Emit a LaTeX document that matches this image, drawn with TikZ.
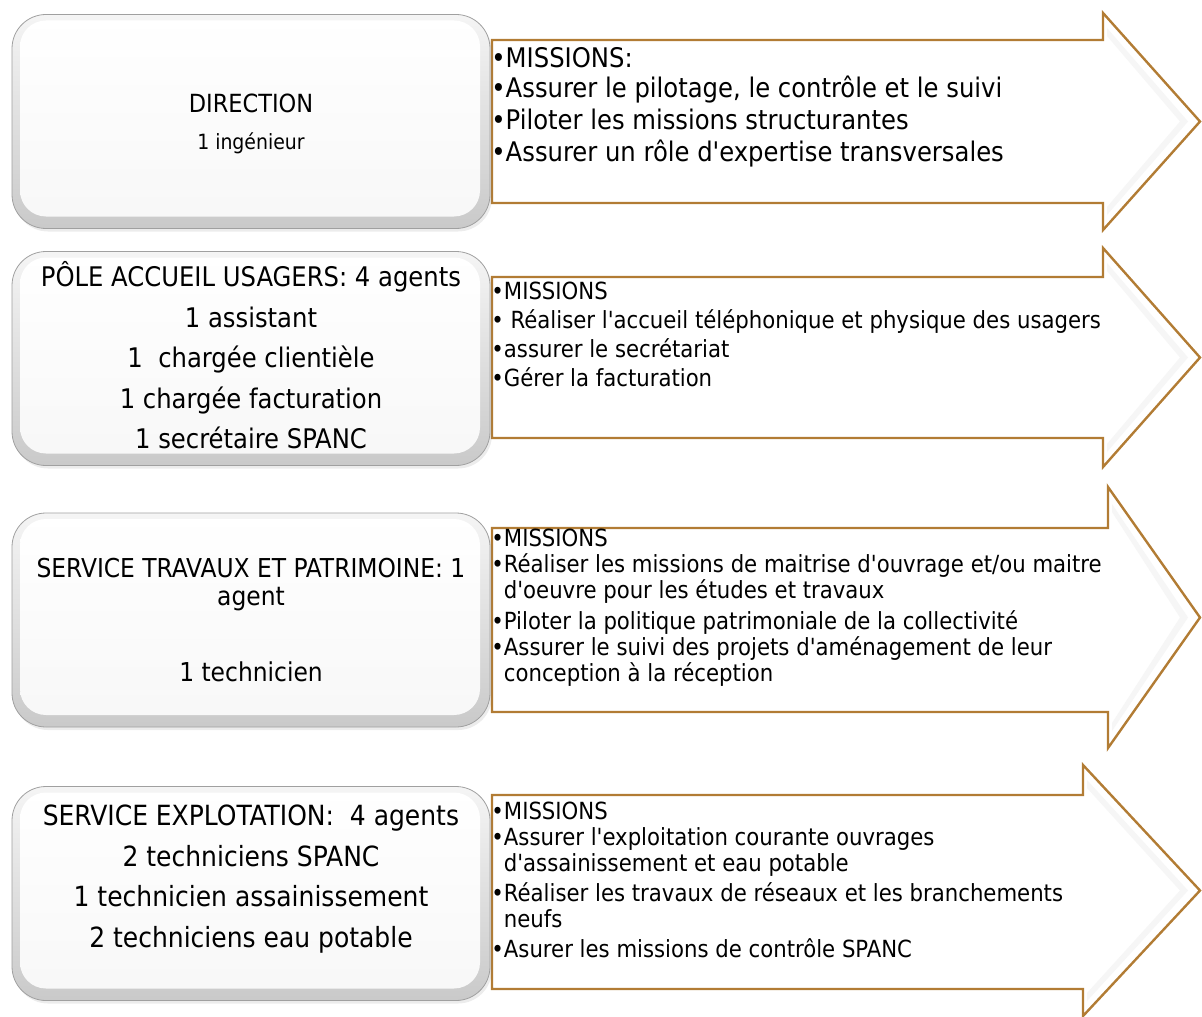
\documentclass[tikz,border=0pt]{standalone}
\usepackage{fontspec}
\setmainfont{DejaVu Sans Condensed}
\newfontfamily\tahoma{DejaVu Sans Condensed}
\usetikzlibrary{shadows}

\definecolor{arrowbrown}{RGB}{178,124,52}
\definecolor{rimgray}{RGB}{160,160,160}
\newcommand\hang{\phantom{•}}

\begin{document}
\begin{tikzpicture}[x=0.5pt,y=-0.5pt,
    unit box/.style={draw=rimgray, rounded corners=17pt, top color=gray!8, bottom color=gray!42,
        minimum width=239pt, minimum height=107pt, align=center, inner sep=0pt,
        font=\tahoma\fontsize{13.5}{20.3}\selectfont,
        drop shadow={opacity=0.15, shadow xshift=1pt, shadow yshift=-1.5pt},
        path picture={\shade[top color=white, bottom color=gray!6, rounded corners=13pt]
            ([xshift=4pt,yshift=-3pt]path picture bounding box.north west) rectangle
            ([xshift=-5pt,yshift=6pt]path picture bounding box.south east);}},
    mission arrow/.style={draw=arrowbrown, line width=1.2pt, fill=white, line join=miter},
    bevel/.style={fill=gray!7},
    mission text/.style={anchor=north west, align=left, inner sep=0pt}]
  \useasboundingbox (0,0) rectangle (1202,1016);

  % arrows with the missions
  \draw[mission arrow] (492,40) -- (1103,40) -- (1103,13) -- (1200,121.5) -- (1103,230) -- (1103,203) -- (492,203) -- cycle;
  \fill[bevel] (1107,28) -- (1188,121.5) -- (1107,215) -- (1107,207) -- (1180,121.5) -- (1107,36) -- cycle;
  \draw[mission arrow] (492,277) -- (1103,277) -- (1103,248) -- (1200,357.5) -- (1103,467) -- (1103,438) -- (492,438) -- cycle;
  \fill[bevel] (1107,263) -- (1188,357.5) -- (1107,452) -- (1107,444) -- (1180,357.5) -- (1107,271) -- cycle;
  \draw[mission arrow] (492,528) -- (1108,528) -- (1108,487) -- (1200,617.5) -- (1108,748) -- (1108,712) -- (492,712) -- cycle;
  \fill[bevel] (1112,504) -- (1188,617.5) -- (1112,731) -- (1112,723) -- (1180,617.5) -- (1112,512) -- cycle;
  \draw[mission arrow] (492,795) -- (1083,795) -- (1083,765) -- (1200,890.5) -- (1083,1016) -- (1083,989) -- (492,989) -- cycle;
  \fill[bevel] (1087,780) -- (1188,890.5) -- (1087,1001) -- (1087,993) -- (1180,890.5) -- (1087,788) -- cycle;

  \node[mission text, font=\tahoma\fontsize{13.5}{16}\selectfont] (m1) at (491,47) {%
    •MISSIONS:\\[-1pt]
    •Assurer le pilotage, le contrôle et le suivi\\
    •Piloter les missions structurantes\\
    •Assurer un rôle d'expertise transversales};
  \node[mission text, font=\tahoma\fontsize{11.8}{14.5}\selectfont] (m2) at (491,282) {%
    •MISSIONS\\
    • Réaliser l'accueil téléphonique et physique des usagers\\
    •assurer le secrétariat\\
    •Gérer la facturation};
  \node[mission text, font=\tahoma\fontsize{11.8}{13}\selectfont] (m3) at (491,529) {%
    •MISSIONS\\
    •Réaliser les missions de maitrise d'ouvrage et/ou maitre\\
    \hang d'oeuvre pour les études et travaux\\[2.5pt]
    •Piloter la politique patrimoniale de la collectivité\\
    •Assurer le suivi des projets d'aménagement de leur\\
    \hang conception à la réception};
  \node[mission text, font=\tahoma\fontsize{11.8}{13}\selectfont] (m4) at (491,802) {%
    •MISSIONS\\
    •Assurer l'exploitation courante ouvrages\\
    \hang d'assainissement et eau potable\\[2pt]
    •Réaliser les travaux de réseaux et les branchements\\
    \hang neufs\\[2pt]
    •Asurer les missions de contrôle SPANC};

  % the units
  \node[unit box] (direction) at (251,121.5) {};
  \node[align=center, inner sep=0pt, font=\tahoma\fontsize{10.5}{18.5}\selectfont] (directiontext) at (251,124)
    {{\fontsize{12.5}{18.5}\selectfont DIRECTION}\\1 ingénieur};
  \node[unit box] (accueil) at (251,358.5)
    {PÔLE ACCUEIL USAGERS: 4 agents\\1 assistant\\1 \ chargée clientièle\\1 chargée facturation\\1 secrétaire SPANC\\[-17pt]\mbox{}};
  \node[unit box, font=\tahoma\fontsize{13}{14}\selectfont] (travaux) at (251,620)
    {SERVICE TRAVAUX ET PATRIMOINE: 1\\agent\\[24pt]1 technicien};
  \node[unit box, font=\tahoma\fontsize{13.9}{20.3}\selectfont] (exploitation) at (251,893.5)
    {SERVICE EXPLOTATION: \ 4 agents\\2 techniciens SPANC\\1 technicien assainissement\\2 techniciens eau potable\\[-3pt]\mbox{}};
\end{tikzpicture}
\end{document}
